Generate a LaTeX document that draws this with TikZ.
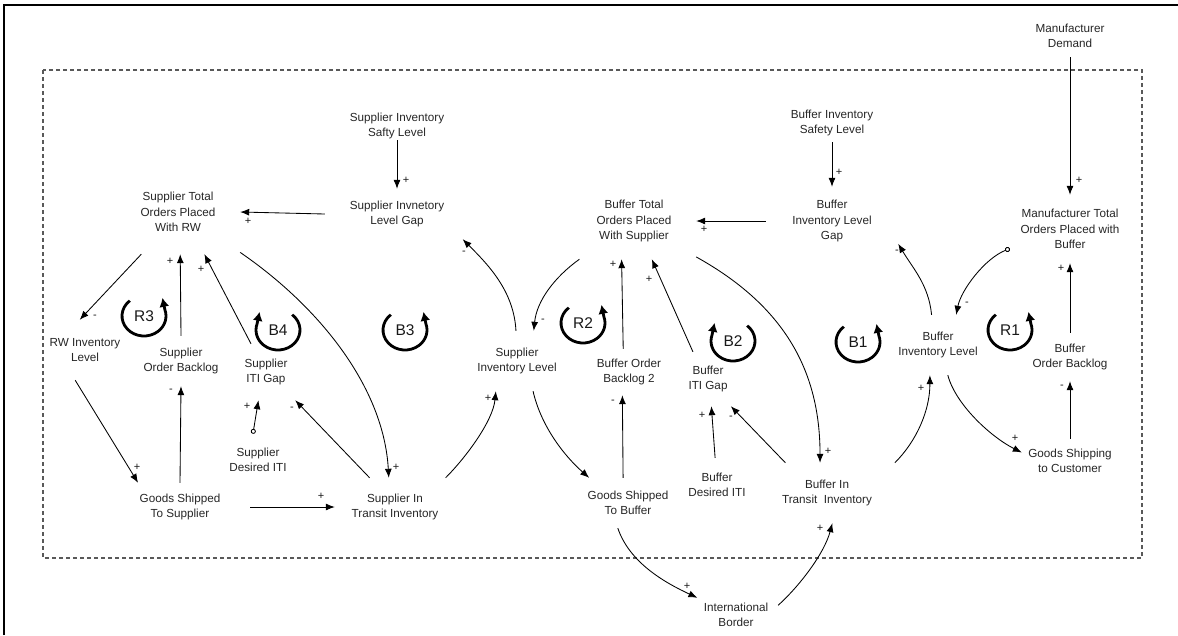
\documentclass[tikz,border=0pt]{standalone}
\usepackage{fontspec}
\setmainfont{Liberation Sans}
\usetikzlibrary{arrows.meta}
\begin{document}
\begin{tikzpicture}[x=1pt,y=-1pt,
  var/.style={align=center,font=\fontsize{11.7}{15.6}\selectfont,text=black!85,inner sep=0pt},
  pol/.style={font=\fontsize{11}{12}\selectfont,inner sep=0pt,text=black!90},
  loopname/.style={font=\fontsize{15.5}{18}\selectfont,inner sep=0pt,text=black!90},
  link/.style={line width=0.85pt,-{Latex[length=9pt,width=7pt]}},
  olink/.style={line width=0.85pt,{Circle[open,length=5pt,width=5pt]}-{Latex[length=9pt,width=7pt]}},
  ring/.style={line width=2.8pt,-{Latex[length=9pt,width=10pt]}}
]
\useasboundingbox (0,0) rectangle (1178,635);

% outer frame and system boundary
\draw[line width=2.3pt] (4.2,635) -- (4.2,5.2) -- (1178,5.2);
\draw[black!65,line width=1.1pt,dash pattern=on 4pt off 3pt] (43,70) rectangle (1142,558);

% variables
\node[var,minimum width=80pt,minimum height=42pt] (md) at (1070,36) {Manufacturer\\Demand};
\node[var,minimum width=120pt,minimum height=68pt] (mto) at (1070,229) {Manufacturer Total\\Orders Placed with\\Buffer};
\node[var,minimum width=110pt,minimum height=38pt] (bsafe) at (832,123) {Buffer Inventory\\Safety Level};
\node[var,minimum width=132pt,minimum height=68pt] (bgap) at (832,221) {Buffer\\Inventory Level\\Gap};
\node[var,minimum width=120pt,minimum height=60pt] (bil) at (938,345) {Buffer\\Inventory Level};
\node[var,minimum width=100pt,minimum height=48pt] (bob) at (1070,357) {Buffer\\Order Backlog};
\node[var,minimum width=96pt,minimum height=44pt] (gsc) at (1070,461) {Goods Shipping\\to Customer};
\node[var,minimum width=124pt,minimum height=76pt] (bto) at (634,221) {Buffer Total\\Orders Placed\\With Supplier};
\node[var,minimum width=80pt,minimum height=46pt] (bob2) at (629,372) {Buffer Order\\Backlog 2};
\node[var,minimum width=60pt,minimum height=54pt] (bitig) at (708,379) {Buffer\\ITI Gap};
\node[var,minimum width=80pt,minimum height=54pt] (bditi) at (717,485) {Buffer\\Desired ITI};
\node[var,minimum width=90pt,minimum height=50pt] (gsb) at (628,503) {Goods Shipped\\To Buffer};
\node[var,minimum width=136pt,minimum height=60pt] (bit) at (827,493) {Buffer In\\Transit~~Inventory};
\node[var,minimum width=84pt,minimum height=34pt] (ib) at (736,615) {International\\Border};
\node[var,minimum width=100pt,minimum height=60pt] (sil) at (517,361) {Supplier\\Inventory Level};
\node[var,minimum width=144pt,minimum height=50pt] (sgap) at (397,214) {Supplier Invnetory\\Level Gap};
\node[var,minimum width=110pt,minimum height=28pt] (ssafe) at (397,126) {Supplier Inventory\\Safty Level};
\node[var,minimum width=124pt,minimum height=84pt] (sto) at (178,212) {Supplier Total\\Orders Placed\\With RW};
\node[var,minimum width=74pt,minimum height=60pt] (rw) at (85,350) {RW Inventory\\Level};
\node[var,minimum width=90pt,minimum height=50pt] (sob) at (181,361) {Supplier\\Order Backlog};
\node[var,minimum width=64pt,minimum height=56pt] (sitig) at (266,372) {Supplier\\ITI Gap};
\node[var,minimum width=80pt,minimum height=52pt] (sditi) at (258,460) {Supplier\\Desired ITI};
\node[var,minimum width=140pt,minimum height=48pt] (gss) at (180,507) {Goods Shipped\\To Supplier};
\node[var,minimum width=120pt,minimum height=58pt] (sit) at (395,507) {Supplier In\\Transit Inventory};

% loop identifiers
\node[loopname] (R3) at (144,316) {R3};
\node[loopname] (B4) at (278,330) {B4};
\node[loopname] (B3) at (405,330) {B3};
\node[loopname] (R2) at (583,323) {R2};
\node[loopname] (B2) at (733,341) {B2};
\node[loopname] (B1) at (858,342) {B1};
\node[loopname] (R1) at (1010,330) {R1};

% loop arrows: counter-clockwise
\foreach \l in {R3,B3,R2,B1,R1}
  \draw[ring] (\l.center) ++(130:22pt and 20pt)
    arc[start angle=130,end angle=378,x radius=22pt,y radius=20pt] -- ++(-2.5,-12);
% loop arrows: clockwise
\foreach \l in {B4,B2}
  \draw[ring] (\l.center) ++(50:22pt and 20pt)
    arc[start angle=50,end angle=-198,x radius=22pt,y radius=20pt] -- ++(2.5,-12);

% causal links, buffer side
\draw[link] (md.south) -- (mto.north);
\draw[link] (bsafe.south) -- (bgap.north);
\draw[link] (bgap.west) -- (bto.east);
\draw[link] (bil.102) .. controls +(-3,-30) and +(15,25) .. (bgap.-19);
\draw[olink] (mto.-162) .. controls +(-25,10) and +(5,-25) .. (bil.59);
\draw[link] (bob.north) -- (mto.south);
\draw[link] (gsc.north) -- (bob.south);
\draw[link] (bil.-72) .. controls +(8,30) and +(-30,-15) .. (gsc.170);
\draw[link] (bit.24) .. controls +(22,-22) and +(0,35) .. (bil.-105);
\draw[link] (bto.-30) .. controls +(90,50) and +(0,-90) .. (bit.103);
\draw[link] (bit.144) -- (bitig.-50);
\draw[link] (bditi.94) -- (bitig.-83);
\draw[link] (bitig.119) -- (bto.-65);
\draw[link] (bob2.104) -- (bto.-108);
\draw[link] (gsb.101) -- (bob2.-106);
\draw[link] (gsb.-112) .. controls +(12,35) and +(-32,-15) .. (ib.156);
\draw[link] (ib.13) .. controls +(22,-20) and +(-8,30) .. (bit.-80);

% causal links, supplier side
\draw[link] (bto.-145) .. controls +(-25,18) and +(3,-30) .. (sil.61);
\draw[link] (sil.92) .. controls +(-2,-40) and +(25,25) .. (sgap.-21);
\draw[link] (sgap.west) -- (sto.east);
\draw[link] (ssafe.south) -- (sgap.north);
\draw[link] (sil.-62) .. controls +(8,35) and +(-25,-22) .. (gsb.147);
\draw[link] (sit.30) .. controls +(20,-20) and +(-3,30) .. (sil.-125);
\draw[link] (sto.-33) .. controls +(80,55) and +(-5,-90) .. (sit.102);
\draw[link] (sit.131) -- (sitig.-44);
\draw[olink] (sditi.101) -- (sitig.-105);
\draw[link] (sitig.118) -- (sto.-58);
\draw[link] (sob.north) -- (sto.-87);
\draw[link] (gss.north) -- (sob.south);
\draw[link] (sto.-131) -- (rw.100);
\draw[link] (rw.-108) -- (gss.150);
\draw[link] (gss.east) -- (sit.west);

% polarities
\node[pol] (p1) at (1079,180) {+};
\node[pol] (p2) at (839,172) {+};
\node[pol] (p3) at (704,229) {+};
\node[pol] (p4) at (897,252) {-};
\node[pol] (p5) at (967,304) {-};
\node[pol] (p6) at (1061,268) {+};
\node[pol] (p7) at (1062,387) {-};
\node[pol] (p8) at (1015,438) {+};
\node[pol] (p9) at (921,388) {+};
\node[pol] (p10) at (828,451) {+};
\node[pol] (p11) at (731,418) {-};
\node[pol] (p12) at (702,415) {+};
\node[pol] (p13) at (649,279) {+};
\node[pol] (p14) at (613,264) {+};
\node[pol] (p15) at (613,402) {-};
\node[pol] (p16) at (687,586) {+};
\node[pol] (p17) at (820,528) {+};
\node[pol] (p18) at (543,321) {-};
\node[pol] (p19) at (464,253) {-};
\node[pol] (p20) at (248,221) {+};
\node[pol] (p21) at (406,180) {+};
\node[pol] (p22) at (488,398) {+};
\node[pol] (p23) at (396,467) {+};
\node[pol] (p24) at (292,409) {-};
\node[pol] (p25) at (247,406) {+};
\node[pol] (p26) at (201,269) {+};
\node[pol] (p27) at (170,261) {+};
\node[pol] (p28) at (171,391) {-};
\node[pol] (p29) at (95,317) {-};
\node[pol] (p30) at (137,467) {+};
\node[pol] (p31) at (321,496) {+};
\end{tikzpicture}
\end{document}
